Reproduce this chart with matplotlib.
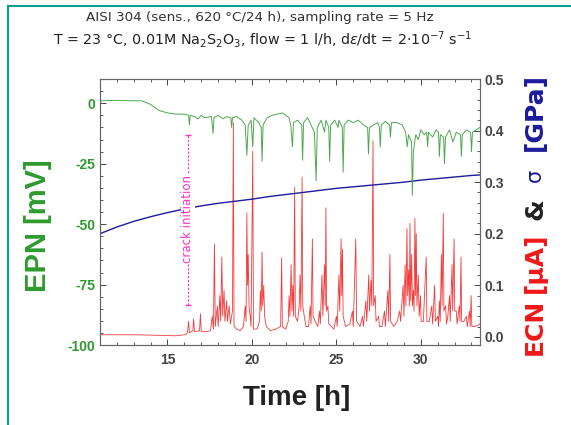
import matplotlib
matplotlib.use("Agg")
import matplotlib.pyplot as plt
from matplotlib.lines import Line2D
from matplotlib.ticker import MultipleLocator

# electrochemical potential noise, EPN [mV]
epn_t = [11.0, 12.0, 13.0, 13.5, 14.0, 14.5, 15.0, 15.5, 16.0, 16.25, 16.3, 16.35,
         16.6, 16.8, 17.0, 17.2, 17.6, 17.7, 17.75, 18.0, 18.3, 18.5, 18.75, 18.8,
         18.85, 19.1, 19.4, 19.6, 19.7, 19.78, 19.95, 20.05, 20.12, 20.4, 20.55, 20.6,
         20.66, 20.9, 21.2, 21.5, 21.8, 22.0, 22.2, 22.3, 22.4, 22.46, 22.7, 22.95,
         23.0, 23.06, 23.3, 23.5, 23.7, 23.8, 23.87, 24.1, 24.3, 24.38, 24.55, 24.6,
         24.66, 24.9, 25.1, 25.15, 25.35, 25.4, 25.46, 25.7, 26.0, 26.3, 26.6, 26.85,
         26.9, 26.96, 27.2, 27.45, 27.55, 27.6, 27.66, 27.9, 28.15, 28.2, 28.26, 28.6,
         28.9, 29.1, 29.2, 29.27, 29.45, 29.5, 29.56, 29.7, 29.85, 30.0, 30.2, 30.35,
         30.4, 30.46, 30.7, 30.9, 31.05, 31.1, 31.16, 31.35, 31.4, 31.46, 31.7, 31.9,
         32.1, 32.35, 32.4, 32.46, 32.7, 32.95, 33.0, 33.06, 33.5]
epn_mv = [1.0, 1.2, 1.0, 1.0, -0.5, -3.0, -4.0, -4.5, -4.5, -5.0, -9.0, -5.0,
          -5.5, -6.5, -5.0, -6.0, -5.5, -12.5, -6.0, -5.0, -6.5, -5.5, -6.0, -10.0,
          -6.0, -5.5, -7.0, -9.0, -21.5, -9.0, -7.0, -18.0, -6.0, -8.0, -10.0, -24.0,
          -9.0, -6.0, -5.0, -4.5, -4.0, -5.0, -6.0, -9.0, -18.0, -8.0, -7.0, -9.0,
          -23.5, -8.0, -6.0, -9.0, -12.0, -32.0, -10.0, -7.0, -12.0, -7.0, -10.0, -24.0,
          -9.0, -7.0, -10.0, -7.0, -10.0, -28.5, -9.0, -7.0, -8.0, -7.0, -9.0, -10.0,
          -21.0, -10.0, -9.0, -8.0, -10.0, -18.0, -9.0, -7.5, -9.0, -14.0, -8.0, -8.0,
          -9.0, -12.0, -18.0, -13.0, -16.0, -38.0, -20.0, -13.0, -15.0, -11.0, -13.0, -12.0,
          -18.0, -12.0, -14.0, -11.0, -12.0, -22.0, -13.0, -14.0, -25.0, -14.0, -11.0, -16.0,
          -12.0, -13.0, -22.0, -13.0, -11.0, -12.0, -20.0, -12.0, -10.0]

# electrochemical current noise, ECN [uA]
ecn_t = [11.0, 13.0, 14.5, 15.5, 16.0, 16.15, 16.2, 16.25, 16.3, 16.5, 16.55, 16.6,
         16.9, 16.95, 17.0, 17.3, 17.55, 17.65, 17.72, 17.78, 17.83, 17.95, 18.0, 18.1,
         18.15, 18.22, 18.27, 18.35, 18.4, 18.5, 18.55, 18.65, 18.72, 18.85, 18.9, 18.94,
         19.1, 19.3, 19.5, 19.6, 19.65, 19.7, 19.74, 19.78, 19.83, 19.9, 19.95, 20.05,
         20.09, 20.3, 20.45, 20.5, 20.55, 20.6, 20.64, 20.7, 20.75, 20.85, 21.1, 21.4,
         21.7, 21.76, 21.8, 22.0, 22.15, 22.2, 22.25, 22.32, 22.37, 22.42, 22.47, 22.53,
         22.57, 22.7, 22.8, 22.85, 22.9, 22.97, 23.01, 23.1, 23.2, 23.35, 23.45, 23.5,
         23.58, 23.62, 23.75, 23.9, 24.0, 24.05, 24.15, 24.2, 24.3, 24.34, 24.38, 24.42,
         24.5, 24.55, 24.7, 24.85, 25.0, 25.05, 25.15, 25.2, 25.28, 25.32, 25.36, 25.4,
         25.55, 25.8, 25.95, 26.0, 26.15, 26.2, 26.4, 26.55, 26.6, 26.75, 26.8, 26.92,
         26.96, 27.05, 27.1, 27.17, 27.21, 27.3, 27.35, 27.5, 27.55, 27.7, 27.85, 27.9,
         28.05, 28.1, 28.17, 28.21, 28.4, 28.6, 28.75, 28.8, 28.95, 29.0, 29.07, 29.12,
         29.18, 29.22, 29.28, 29.32, 29.36, 29.4, 29.46, 29.5, 29.56, 29.6, 29.65, 29.69,
         29.73, 29.77, 29.85, 29.9, 29.98, 30.02, 30.15, 30.32, 30.36, 30.5, 30.65, 30.7,
         30.82, 30.86, 31.0, 31.05, 31.1, 31.15, 31.22, 31.26, 31.33, 31.37, 31.47, 31.52,
         31.6, 31.7, 31.74, 31.85, 31.89, 31.97, 32.01, 32.1, 32.15, 32.28, 32.32, 32.38,
         32.42, 32.55, 32.7, 32.75, 32.88, 32.92, 32.98, 33.02, 33.2, 33.5]
ecn_ua = [0.004, 0.004, 0.003, 0.002, 0.004, 0.006, 0.012, 0.03, 0.008, 0.012, 0.035, 0.01,
          0.012, 0.045, 0.01, 0.01, 0.012, 0.04, 0.015, 0.18, 0.02, 0.06, 0.02, 0.08,
          0.03, 0.155, 0.04, 0.09, 0.03, 0.07, 0.03, 0.06, 0.025, 0.05, 0.415, 0.02,
          0.015, 0.012, 0.02, 0.06, 0.03, 0.24, 0.1, 0.16, 0.06, 0.04, 0.02, 0.36,
          0.015, 0.015, 0.03, 0.09, 0.05, 0.165, 0.06, 0.1, 0.04, 0.02, 0.012, 0.015,
          0.02, 0.153, 0.02, 0.015, 0.03, 0.08, 0.04, 0.14, 0.05, 0.1, 0.04, 0.29,
          0.04, 0.03, 0.06, 0.12, 0.05, 0.31, 0.06, 0.04, 0.02, 0.02, 0.06, 0.025,
          0.19, 0.04, 0.03, 0.02, 0.05, 0.025, 0.12, 0.04, 0.14, 0.06, 0.25, 0.05,
          0.06, 0.025, 0.02, 0.015, 0.04, 0.02, 0.12, 0.05, 0.19, 0.08, 0.17, 0.04,
          0.02, 0.025, 0.05, 0.02, 0.19, 0.03, 0.02, 0.04, 0.02, 0.07, 0.03, 0.12,
          0.05, 0.11, 0.06, 0.38, 0.06, 0.08, 0.03, 0.04, 0.02, 0.02, 0.05, 0.02,
          0.09, 0.03, 0.16, 0.03, 0.02, 0.03, 0.05, 0.03, 0.1, 0.04, 0.14, 0.06,
          0.21, 0.08, 0.13, 0.06, 0.22, 0.07, 0.16, 0.06, 0.09, 0.05, 0.23, 0.08,
          0.2, 0.06, 0.12, 0.04, 0.08, 0.03, 0.03, 0.155, 0.03, 0.03, 0.06, 0.025,
          0.1, 0.03, 0.04, 0.02, 0.07, 0.03, 0.16, 0.06, 0.24, 0.05, 0.06, 0.025,
          0.04, 0.08, 0.03, 0.14, 0.05, 0.19, 0.05, 0.05, 0.025, 0.06, 0.03, 0.155,
          0.03, 0.03, 0.04, 0.02, 0.05, 0.02, 0.08, 0.02, 0.02, 0.025]

# applied stress sigma [GPa]
sig_t = [11.0, 12.0, 13.0, 14.0, 15.0, 16.0, 17.0, 18.0, 19.0, 20.0, 21.0, 22.0,
         23.0, 24.0, 25.0, 26.0, 27.0, 28.0, 29.0, 30.0, 31.0, 32.0, 33.0, 33.5]
sig_gpa = [0.200, 0.213, 0.224, 0.233, 0.241, 0.248, 0.254, 0.259, 0.263, 0.267,
           0.272, 0.276, 0.280, 0.284, 0.288, 0.291, 0.294, 0.297, 0.300, 0.304,
           0.307, 0.310, 0.313, 0.314]

crack_t = 16.2
crack_span = (0.062, 0.391)

GREEN = "#3c9e3c"
LABEL_GREEN = "#2e9a2e"
RED = "#f01818"
BLUE = "#1c1c9c"
MAGENTA = "#ff2fc8"
GREY = "#444444"

plt.rcParams["font.family"] = ["Liberation Sans", "DejaVu Sans"]
plt.rcParams["axes.unicode_minus"] = False

fig = plt.figure(figsize=(5.71, 4.25), dpi=100)
ax = fig.add_axes([0.175, 0.188, 0.6655, 0.626])
ax2 = ax.twinx()
ax.set_zorder(2)
ax.patch.set_visible(False)

ax2.plot(ecn_t, ecn_ua, color=RED, lw=0.6, alpha=0.85)
ax2.plot(sig_t, sig_gpa, color=BLUE, lw=1.0)
ax.plot(epn_t, epn_mv, color=GREEN, lw=0.7, alpha=0.9)

# crack initiation marker
ax2.plot([crack_t, crack_t], crack_span, color=MAGENTA, lw=0.8, ls=(0, (2, 1.5)))
ax2.plot([crack_t] * 2, crack_span, ls="none", marker="_", ms=4, color=MAGENTA)
ax2.text(crack_t, 0.228, "crack initiation", rotation=90, color=MAGENTA,
         fontsize=8.5, family="DejaVu Sans", ha="center", va="center",
         bbox=dict(facecolor="white", edgecolor="none", pad=0.3))

ax.set_xlim(11, 33.5)
ax.set_ylim(-100, 10)
ax2.set_ylim(-0.016, 0.5)

ax.xaxis.set_major_locator(MultipleLocator(5))
ax.xaxis.set_minor_locator(MultipleLocator(1))
ax.yaxis.set_major_locator(MultipleLocator(25))
ax.yaxis.set_minor_locator(MultipleLocator(5))
ax2.yaxis.set_major_locator(MultipleLocator(0.1))
ax2.yaxis.set_minor_locator(MultipleLocator(0.02))

ax.tick_params(axis="x", which="both", direction="in", top=True, colors=GREY,
               labelsize=10, pad=6)
ax.tick_params(axis="y", which="both", direction="in", colors=GREY,
               labelcolor=LABEL_GREEN, labelsize=10)
ax2.tick_params(axis="y", which="both", direction="in", colors=GREY,
                labelsize=10)
for a in (ax, ax2):
    a.tick_params(which="major", length=4, width=0.7)
    a.tick_params(which="minor", length=2, width=0.6)
    for lab in a.get_xticklabels() + a.get_yticklabels():
        lab.set_fontweight("bold")
    for sp in a.spines.values():
        sp.set_color("#666666")
        sp.set_linewidth(0.8)
ax2.set_yticks([0.0, 0.1, 0.2, 0.3, 0.4, 0.5])
ax2.set_yticklabels(["0.0", "0.1", "0.2", "0.3", "0.4", "0.5"], fontweight="bold")

fig.text(0.52, 0.064, "Time [h]", ha="center", va="center", fontsize=20,
         fontweight="bold", color="#222222")
fig.text(0.067, 0.47, "EPN [mV]", rotation=90, ha="center", va="center",
         fontsize=21, fontweight="bold", color=LABEL_GREEN)

fig.text(0.455, 0.958, "AISI 304 (sens., 620 °C/24 h), sampling rate = 5 Hz",
         ha="center", va="center", fontsize=9.7, family="DejaVu Sans",
         color="#333333")
fig.text(0.46, 0.906,
         r"T = 23 °C, 0.01M Na$_2$S$_2$O$_3$, flow = 1 l/h, d$\varepsilon$/dt = 2$\cdot$10$^{-7}$ s$^{-1}$",
         ha="center", va="center", fontsize=10.3, family="DejaVu Sans",
         color="#222222")

# right axis label in several colours, stacked bottom to top
parts = [("ECN", RED, 18, "bold", 6), ("[μA]", RED, 18, "bold", 12),
         ("&", "#222222", 18, "bold", 17), ("σ", BLUE, 15, "normal", 17),
         ("[GPa]", BLUE, 18, "bold", 0)]
fig.canvas.draw()
r = fig.canvas.get_renderer()
y = 1 - 355 / 425
for s, c, fs, fw, gap in parts:
    t = fig.text(0.937, y, s, rotation=90, ha="center", va="bottom",
                 fontsize=fs, fontweight=fw, family="DejaVu Sans", color=c)
    bb = t.get_window_extent(r)
    y += (bb.height + gap) / fig.bbox.height

# teal frame edges
fig.add_artist(Line2D([0.014, 1.0], [0.985, 0.985], color="#00a08a", lw=1.5,
                      transform=fig.transFigure))
fig.add_artist(Line2D([0.014, 0.014], [0.0, 0.985], color="#00a08a", lw=1.5,
                      transform=fig.transFigure))

fig.savefig("out.png", dpi=100)
